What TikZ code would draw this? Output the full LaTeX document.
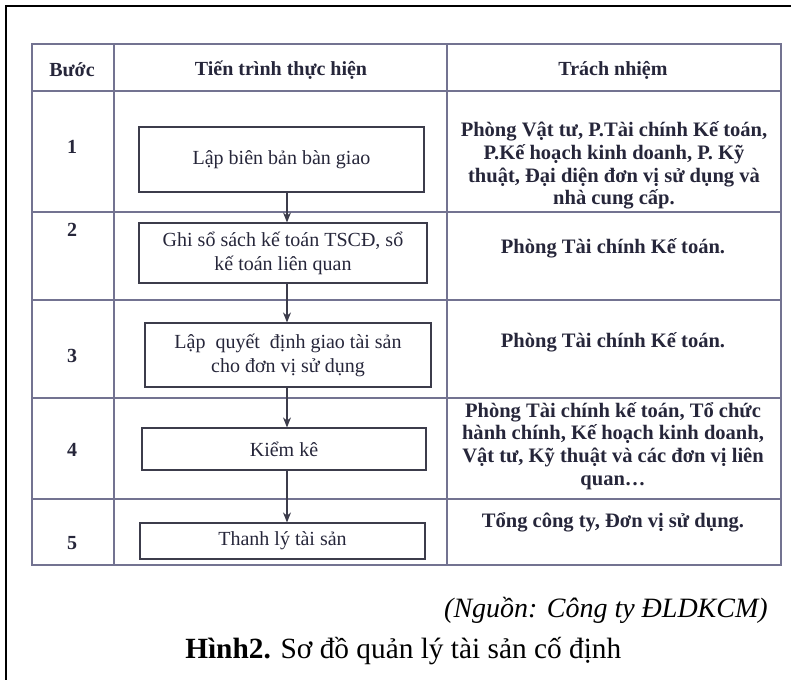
\documentclass[tikz,border=0pt]{standalone}
\usepackage{fontspec}
\setmainfont{Liberation Serif}
\usetikzlibrary{arrows.meta}
\definecolor{tline}{RGB}{115,115,145}
\definecolor{ttext}{RGB}{38,38,58}
\definecolor{bline}{RGB}{60,60,75}
\begin{document}
\begin{tikzpicture}[x=0.75pt,y=-0.75pt,
  tl/.style={draw=tline,line width=0.8pt},
  hdr/.style={font=\fontsize{15}{17}\selectfont\bfseries,text=ttext,inner sep=0pt},
  num/.style={font=\fontsize{15}{17}\selectfont\bfseries,text=ttext,inner sep=0pt},
  resp/.style={font=\fontsize{15.4}{17}\selectfont\bfseries,text=ttext,align=center,inner sep=0pt},
  stepbox/.style={draw=bline,line width=0.9pt,rectangle,align=center,inner sep=0pt,
     font=\fontsize{15}{18}\selectfont,text=ttext},
  arr/.style={draw=bline,line width=0.9pt,-{Stealth[length=7.5pt,width=6pt]}}]
\useasboundingbox (0,0) rectangle (791,680);
% outer frame
\draw[line width=1.6pt] (6,680) -- (6,6) -- (791,6);
% table
\draw[tl] (32,44) rectangle (781,565);
\draw[tl] (114,44) -- (114,565);
\draw[tl] (447,44) -- (447,565);
\foreach \yy in {91,212,300,398,499} {\draw[tl] (32,\yy) -- (781,\yy);}
% headers
\node[hdr] (h1) at (72,70) {Bước};
\node[hdr] (h2) at (281,70) {Tiến trình thực hiện};
\node[hdr] (h3) at (613,70) {Trách nhiệm};
% step numbers
\node[num] (n1) at (72,147) {1};
\node[num] (n2) at (72,230) {2};
\node[num] (n3) at (72,356) {3};
\node[num] (n4) at (72,450) {4};
\node[num] (n5) at (72,543) {5};
% process boxes
\node[stepbox,minimum width=285*0.75pt,minimum height=65*0.75pt] (b1) at (281.5,159.5) {Lập biên bản bàn giao};
\node[stepbox,minimum width=288*0.75pt,minimum height=60*0.75pt] (b2) at (283,253) {Ghi sổ sách kế toán TSCĐ, sổ\\kế toán liên quan};
\node[stepbox,minimum width=286*0.75pt,minimum height=64*0.75pt] (b3) at (288,355) {Lập\ \ quyết\ \ định giao tài sản\\cho đơn vị sử dụng};
\node[stepbox,minimum width=284*0.75pt,minimum height=42*0.75pt] (b4) at (284,449) {Kiểm kê};
\node[stepbox,minimum width=285*0.75pt,minimum height=36*0.75pt] (b5) at (282.5,541) {Thanh lý tài sản};
% arrows
\coordinate (ax) at (287,0);
\draw[arr] (b1.south -| ax) -- (b2.north -| ax);
\draw[arr] (b2.south -| ax) -- (b3.north -| ax);
\draw[arr] (b3.south -| ax) -- (b4.north -| ax);
\draw[arr] (b4.south -| ax) -- (b5.north -| ax);
% responsibilities
\node[resp] (r1) at (614,165.5) {Phòng Vật tư, P.Tài chính Kế toán,\\P.Kế hoạch kinh doanh, P. Kỹ\\thuật, Đại diện đơn vị sử dụng và\\nhà cung cấp.};
\node[resp] (r2) at (613,248) {Phòng Tài chính Kế toán.};
\node[resp] (r3) at (613,342) {Phòng Tài chính Kế toán.};
\node[resp] (r4) at (613,446) {Phòng Tài chính kế toán, Tổ chức\\hành chính, Kế hoạch kinh doanh,\\Vật tư, Kỹ thuật và các đơn vị liên\\quan…};
\node[resp] (r5) at (613,522) {Tổng công ty, Đơn vị sử dụng.};
% captions
\node[anchor=base east,inner sep=0pt,font=\fontsize{21}{24}\selectfont\itshape] (src) at (768,617) {(Nguồn: Công ty ĐLDKCM)};
\node[anchor=base west,inner sep=0pt,font=\fontsize{22}{25}\selectfont] (cap) at (185,658) {\textbf{Hình2.} Sơ đồ quản lý tài sản cố định};
\end{tikzpicture}
\end{document}
